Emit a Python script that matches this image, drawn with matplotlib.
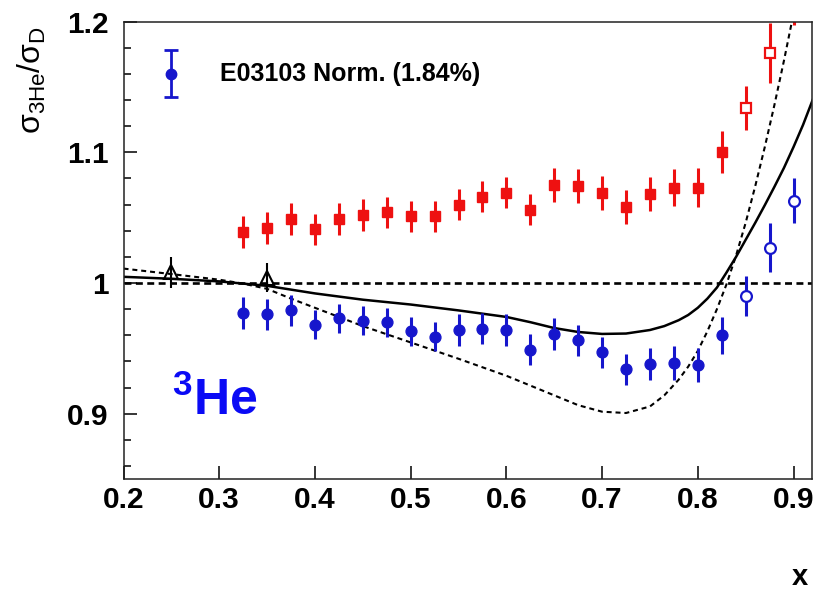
import numpy as np
import matplotlib
matplotlib.use('Agg')
import matplotlib.pyplot as plt

plt.rcParams['font.family'] = ['Liberation Sans', 'DejaVu Sans']
plt.rcParams['mathtext.fontset'] = 'custom'
plt.rcParams['mathtext.rm'] = 'Liberation Sans'
plt.rcParams['mathtext.it'] = 'Liberation Sans:italic'
plt.rcParams['mathtext.bf'] = 'Liberation Sans:bold'
plt.rcParams['mathtext.default'] = 'regular'
plt.rcParams['lines.scale_dashes'] = False

# data
x_fill = [0.325, 0.35, 0.375, 0.40, 0.425, 0.45, 0.475, 0.50, 0.525, 0.55, 0.575,
          0.60, 0.625, 0.65, 0.675, 0.70, 0.725, 0.75, 0.775, 0.80, 0.825]
red_fill = [1.039, 1.042, 1.049, 1.041, 1.049, 1.052, 1.054, 1.051, 1.051, 1.060, 1.066,
            1.069, 1.056, 1.075, 1.074, 1.069, 1.058, 1.068, 1.073, 1.073, 1.100]
red_fill_err = [0.012, 0.012, 0.012, 0.012, 0.012, 0.012, 0.012, 0.012, 0.012, 0.012, 0.012,
                0.012, 0.012, 0.013, 0.013, 0.013, 0.013, 0.013, 0.014, 0.015, 0.016]
blue_fill = [0.977, 0.976, 0.979, 0.968, 0.973, 0.971, 0.970, 0.963, 0.959, 0.964, 0.965,
             0.964, 0.949, 0.961, 0.956, 0.947, 0.934, 0.938, 0.939, 0.937, 0.960]
blue_fill_err = [0.012, 0.012, 0.012, 0.011, 0.011, 0.011, 0.011, 0.011, 0.011, 0.012, 0.012,
                 0.012, 0.012, 0.012, 0.012, 0.012, 0.012, 0.012, 0.013, 0.013, 0.014]

x_open = [0.85, 0.875, 0.90]
red_open = [1.134, 1.176, 1.222]
red_open_err = [0.017, 0.023, 0.025]
blue_open = [0.990, 1.027, 1.063]
blue_open_err = [0.015, 0.019, 0.017]

x_tri = [0.25, 0.35]
tri = [1.008, 1.004]
tri_err = [0.012, 0.011]

solid_x = [0.20, 0.25, 0.30, 0.35, 0.40, 0.45, 0.50, 0.55, 0.60, 0.625, 0.65, 0.675,
           0.70, 0.725, 0.75, 0.765, 0.78, 0.79, 0.80, 0.81, 0.82, 0.83, 0.84, 0.85,
           0.86, 0.87, 0.88, 0.89, 0.90, 0.91, 0.92]
solid_y = [1.0047, 1.0032, 1.0012, 0.9978, 0.9920, 0.9872, 0.9835, 0.9790, 0.9740, 0.9700,
           0.9655, 0.9625, 0.9610, 0.9613, 0.9640, 0.9670, 0.9715, 0.9755, 0.9810, 0.9880,
           0.9965, 1.0080, 1.0200, 1.0330, 1.0460, 1.0595, 1.0735, 1.0880, 1.1040, 1.1210,
           1.1400]

dash_x = [0.20, 0.25, 0.30, 0.325, 0.35, 0.375, 0.40, 0.45, 0.50, 0.55, 0.60, 0.65, 0.675,
          0.70, 0.725, 0.75, 0.765, 0.78, 0.79, 0.80, 0.81, 0.82, 0.83, 0.84, 0.85, 0.86,
          0.87, 0.88, 0.89, 0.90]
dash_y = [1.011, 1.0068, 1.0025, 0.9995, 0.9955, 0.988, 0.981, 0.967, 0.9545, 0.9420, 0.929,
          0.914, 0.9065, 0.9015, 0.9005, 0.9055, 0.9140, 0.9260, 0.9360, 0.9480, 0.9630,
          0.9800, 0.9990, 1.0210, 1.0460, 1.0740, 1.1040, 1.1360, 1.1700, 1.2060]

xticks = [0.2, 0.3, 0.4, 0.5, 0.6, 0.7, 0.8, 0.9]
xtick_labels = ['0.2', '0.3', '0.4', '0.5', '0.6', '0.7', '0.8', '0.9']
yticks = [0.9, 1.0, 1.1, 1.2]
ytick_labels = ['0.9', '1', '1.1', '1.2']

legend_x, legend_y, legend_err = 0.25, 1.160, 0.018

red = '#ee1111'
blue = '#1616cc'

fig = plt.figure(figsize=(8.17, 5.9), dpi=100)
ax = fig.add_axes([0.1512, 0.1881, 0.8423, 0.7754])

ax.axhline(1.0, color='black', lw=1.9, linestyle=(0, (5.0, 3.2)))
ax.plot(solid_x, solid_y, color='black', lw=1.8)
ax.plot(dash_x, dash_y, color='black', lw=1.5, linestyle=(0, (3.6, 2.8)))

ax.errorbar(x_fill, red_fill, yerr=red_fill_err, fmt='s', color=red, ms=7.8,
            elinewidth=2.2, capsize=0)
ax.errorbar(x_open, red_open, yerr=red_open_err, fmt='s', color=red, mfc='white',
            mec=red, mew=1.6, ms=7.8, elinewidth=2.2, capsize=0)
ax.errorbar(x_fill, blue_fill, yerr=blue_fill_err, fmt='o', color=blue, ms=7.8,
            elinewidth=2.2, capsize=0)
ax.errorbar(x_open, blue_open, yerr=blue_open_err, fmt='o', color=blue, mfc='white',
            mec=blue, mew=1.6, ms=7.8, elinewidth=2.2, capsize=0)
ax.errorbar(x_tri, tri, yerr=tri_err, fmt='^', color='black', mfc='none',
            mec='black', mew=1.5, ms=10, elinewidth=1.5, capsize=0)

# legend entry
ax.errorbar([legend_x], [legend_y], yerr=[legend_err], fmt='o', color=blue, ms=7.5,
            elinewidth=2.0, capsize=5, capthick=2.0)
ax.text(0.301, legend_y, 'E03103 Norm. (1.84%)', fontsize=18, fontweight='bold',
        va='center', ha='left')

ax.text(0.251, 0.899, r'$\mathbf{^{3}He}$', fontsize=36, color='#0a0af5',
        va='baseline', ha='left')

ax.set_xlim(0.2, 0.919)
ax.set_ylim(0.85, 1.2)

ax.set_xticks(xticks)
ax.set_xticklabels(xtick_labels)
ax.set_yticks(yticks)
ax.set_yticklabels(ytick_labels)
ax.set_yticks(np.arange(0.86, 1.2, 0.02), minor=True)

ax.tick_params(axis='both', which='major', direction='in', length=9.5, width=1.1,
               labelsize=21.5)
ax.tick_params(axis='y', which='minor', direction='in', length=4.7, width=1.1)
ax.tick_params(axis='x', which='major', pad=5)
ax.tick_params(axis='y', which='major', pad=11)
for lab in ax.get_xticklabels() + ax.get_yticklabels():
    lab.set_fontweight('bold')
for sp in ax.spines.values():
    sp.set_linewidth(1.1)
    sp.set_color('#222222')

fig.text(32 / 817, 1 - 80 / 590, r'$\sigma_{3He}/\sigma_{D}$', fontsize=23,
         rotation=90, ha='center', va='center')
fig.text(800 / 817, 1 - 577 / 590, 'x', fontsize=21, fontweight='bold',
         ha='center', va='center')

fig.savefig('out.png', dpi=100)
